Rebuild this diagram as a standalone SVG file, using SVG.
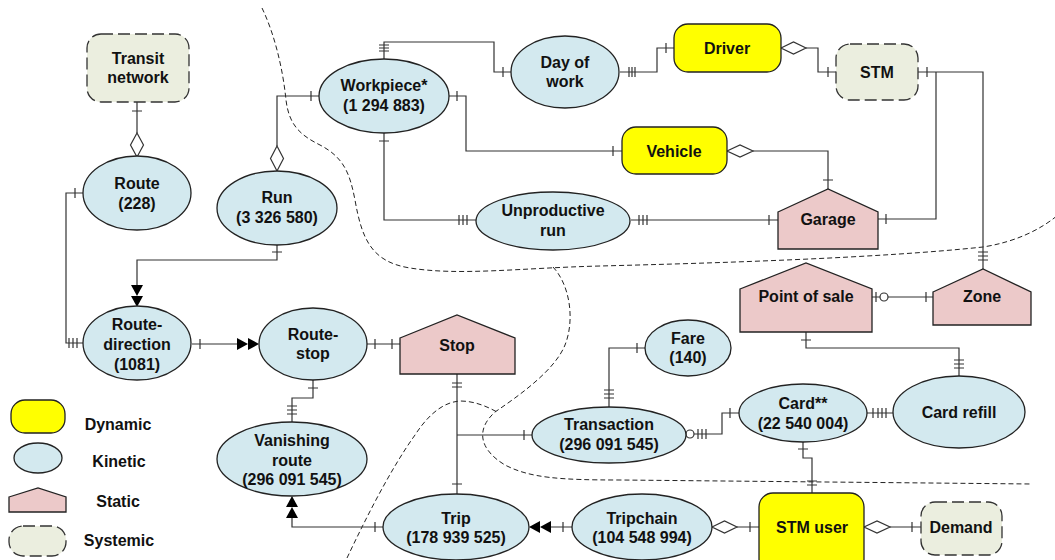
<svg xmlns="http://www.w3.org/2000/svg" width="1055" height="560" viewBox="0 0 1055 560">
<style>
.k{fill:#d3e9ef;stroke:#222;stroke-width:1.3}
.d{fill:#ffff00;stroke:#222;stroke-width:1.3}
.s{fill:#ecc9c9;stroke:#222;stroke-width:1.3}
.y{fill:#ebeedf;stroke:#333;stroke-width:1.3;stroke-dasharray:12 5}
.c{fill:none;stroke:#333;stroke-width:1.2}
.dm{fill:#fff;stroke:#333;stroke-width:1.2}
.ar{fill:#000;stroke:none}
.b{fill:none;stroke:#222;stroke-width:1;stroke-dasharray:5 3}
text{font-family:"Liberation Sans",Arial,sans-serif;font-weight:bold;font-size:16px;text-anchor:middle;fill:#111}
</style>
<rect width="1055" height="560" fill="#fff"/>
<g id="boundaries">
<path class="b" d="M262,8 C275,35 283,70 286,100 C289,125 300,135 320,145 C345,158 350,175 355,200 C362,240 372,262 410,268 C460,276 520,268 600,266 C720,263 880,258 983,247 C1015,242 1040,230 1058,215"/>
<path class="b" d="M553,267 C570,285 575,320 565,345 C555,370 520,395 495,412 C475,430 480,450 505,465 C530,478 560,480 620,480 L1032,484"/>
<path class="b" d="M347,558 C365,520 390,470 415,435 C430,412 445,402 460,401 C475,401 488,407 497,412"/>
</g>
<g id="connectors">
<path class="c" d="M137,102 V133 M132,111 H142"/>
<polygon class="dm" points="137,133 143.5,145 137,157 130.5,145"/>
<path class="c" d="M277,146 V96 H319 M311,91 V101"/>
<polygon class="dm" points="277,146 283.5,158.5 277,171 270.5,158.5"/>
<path class="c" d="M384,59 V42 H494 V72 H511 M379,45 H389 M379,48 H389 M379,51 H389 M503,67 V77"/>
<path class="c" d="M620,72 H657 V48 H674 M629,67 V77 M632,67 V77 M635,67 V77 M666,43 V53"/>
<polygon class="dm" points="781,48 793.5,42 806,48 793.5,54"/>
<path class="c" d="M806,48 H818 V72 H836 M828,67 V77"/>
<path class="c" d="M918,72 H983 V269 M927,67 V77 M978,252 H988 M978,256 H988 M978,260 H988"/>
<path class="c" d="M936,72 V219 H878 M886,214 V224"/>
<path class="c" d="M449,96 H466 V151 H622 M457,91 V101 M613,146 V156"/>
<polygon class="dm" points="727,151 740,145 753,151 740,157"/>
<path class="c" d="M753,151 H828 V189 M823,180 H833"/>
<path class="c" d="M384,133 V220 H476 M379,141 H389 M459,215 V225 M463,215 V225 M467,215 V225"/>
<path class="c" d="M631,220 H778 M639,215 V225 M643,215 V225 M647,215 V225 M769,215 V225"/>
<path class="c" d="M83,193 H66 V343 H83 M75,188 V198 M69,338 V348 M73,338 V348 M77,338 V348"/>
<path class="c" d="M277,245 V260 H137 V285 M272,252 H282"/>
<polygon class="ar" points="131,285 143,285 137,296"/>
<polygon class="ar" points="131,296 143,296 137,307"/>
<path class="c" d="M192,344 H237 M200,339 V349"/>
<polygon class="ar" points="237,338 237,350 248,344"/>
<polygon class="ar" points="248,338 248,350 259,344"/>
<path class="c" d="M367,344 H400 M375,339 V349 M392,339 V349"/>
<path class="c" d="M313,380 V398 H292 V423 M308,388 H318 M287,406 H297 M287,410 H297 M287,414 H297"/>
<path class="c" d="M383,527 H292 V518 M375,522 V532"/>
<polygon class="ar" points="286,518 298,518 292,507"/>
<polygon class="ar" points="286,507 298,507 292,496"/>
<path class="c" d="M457,374 V494 M452,383 H462 M452,387 H462 M452,484 H462"/>
<path class="c" d="M457,435 H532 M524,430 V440"/>
<path class="c" d="M609,407 V348 H645 M604,390 H614 M604,394 H614 M604,398 H614 M637,343 V353"/>
<path class="c" d="M694,434 H722 V413 H739 M698,429 V439 M702,429 V439 M706,429 V439 M730,408 V418"/>
<circle class="dm" cx="690" cy="434" r="4"/>
<path class="c" d="M867,413 H893 M873,408 V418 M878,408 V418 M882,408 V418 M886,408 V418"/>
<path class="c" d="M806,332 V348 H959 V376 M801,340 H811 M954,360 H964 M954,364 H964 M954,368 H964"/>
<path class="c" d="M872,297 H933 M876,292 V302 M926,292 V302"/>
<circle class="dm" cx="884" cy="297" r="4"/>
<path class="c" d="M803,442 V458 H812 V493 M798,449 H808 M807,481 H817 M807,485 H817"/>
<path class="c" d="M572,527 H551 M563,522 V532"/>
<polygon class="ar" points="551,521 551,533 540,527"/>
<polygon class="ar" points="540,521 540,533 529,527"/>
<polygon class="dm" points="712,527 724.5,521 737,527 724.5,533"/>
<path class="c" d="M737,527 H759 M750,522 V532"/>
<polygon class="dm" points="864,527 877,521 890,527 877,533"/>
<path class="c" d="M890,527 H921 M912,522 V532"/>
</g>
<g id="transit-network"><rect class="y" x="87" y="34" width="102" height="68" rx="14"/><text x="138" y="64">Transit</text><text x="138" y="83">network</text></g>
<g id="route"><ellipse class="k" cx="137" cy="193" rx="54" ry="37"/><text x="137" y="189">Route</text><text x="137" y="209">(228)</text></g>
<g id="run"><ellipse class="k" cx="277" cy="208" rx="60" ry="37"/><text x="277" y="203">Run</text><text x="277" y="223">(3 326 580)</text></g>
<g id="workpiece"><ellipse class="k" cx="384" cy="96" rx="65" ry="37"/><text x="384" y="91">Workpiece*</text><text x="384" y="111">(1 294 883)</text></g>
<g id="day-of-work"><ellipse class="k" cx="565" cy="72" rx="54" ry="36"/><text x="565" y="68">Day of</text><text x="565" y="87">work</text></g>
<g id="driver"><rect class="d" x="674" y="24" width="107" height="48" rx="14"/><text x="727" y="54">Driver</text></g>
<g id="stm"><rect class="y" x="836" y="44" width="82" height="56" rx="14"/><text x="877" y="78">STM</text></g>
<g id="vehicle"><rect class="d" x="622" y="127" width="105" height="47" rx="14"/><text x="674" y="157">Vehicle</text></g>
<g id="unproductive-run"><ellipse class="k" cx="553" cy="221" rx="77" ry="29"/><text x="553" y="216">Unproductive</text><text x="553" y="236">run</text></g>
<g id="garage"><polygon class="s" points="778,212 828,189 878,212 878,249 778,249"/><text x="828" y="225">Garage</text></g>
<g id="route-direction"><ellipse class="k" cx="137" cy="343" rx="54" ry="37"/><text x="137" y="330">Route-</text><text x="137" y="350">direction</text><text x="137" y="370">(1081)</text></g>
<g id="route-stop"><ellipse class="k" cx="313" cy="344" rx="54" ry="36"/><text x="313" y="340">Route-</text><text x="313" y="359">stop</text></g>
<g id="stop"><polygon class="s" points="400,338 457,315 515,338 515,374 400,374"/><text x="457" y="351">Stop</text></g>
<g id="vanishing-route"><ellipse class="k" cx="292" cy="459" rx="75" ry="37"/><text x="292" y="446">Vanishing</text><text x="292" y="466">route</text><text x="292" y="485">(296 091 545)</text></g>
<g id="fare"><ellipse class="k" cx="688" cy="348" rx="43" ry="28"/><text x="688" y="344">Fare</text><text x="688" y="363">(140)</text></g>
<g id="transaction"><ellipse class="k" cx="609" cy="435" rx="77" ry="28"/><text x="609" y="430">Transaction</text><text x="609" y="450">(296 091 545)</text></g>
<g id="point-of-sale"><polygon class="s" points="740,289 806,263 872,289 872,332 740,332"/><text x="806" y="302">Point of sale</text></g>
<g id="zone"><polygon class="s" points="933,292 983,269 1031,292 1031,325 933,325"/><text x="982" y="302">Zone</text></g>
<g id="card"><ellipse class="k" cx="803" cy="413" rx="64" ry="29"/><text x="803" y="409">Card**</text><text x="803" y="429">(22 540 004)</text></g>
<g id="card-refill"><ellipse class="k" cx="959" cy="412" rx="66" ry="36"/><text x="959" y="418">Card refill</text></g>
<g id="trip"><ellipse class="k" cx="456" cy="527" rx="73" ry="33"/><text x="456" y="524">Trip</text><text x="456" y="543">(178 939 525)</text></g>
<g id="tripchain"><ellipse class="k" cx="642" cy="527" rx="70" ry="33"/><text x="642" y="524">Tripchain</text><text x="642" y="543">(104 548 994)</text></g>
<g id="stm-user"><rect class="d" x="759" y="493" width="105" height="80" rx="14"/><text x="812" y="533">STM user</text></g>
<g id="demand"><rect class="y" x="921" y="502" width="81" height="53" rx="14"/><text x="961" y="533">Demand</text></g>
<g id="legend">
<rect class="d" x="11" y="400" width="54" height="33" rx="14"/><text x="118" y="430">Dynamic</text>
<ellipse class="k" cx="38" cy="458" rx="24" ry="15"/><text x="119" y="467">Kinetic</text>
<polygon class="s" points="9,497 38,488 66,497 66,512 9,512"/><text x="118" y="507">Static</text>
<rect class="y" x="9" y="526" width="57" height="30" rx="14"/><text x="119" y="546">Systemic</text>
</g>
</svg>
